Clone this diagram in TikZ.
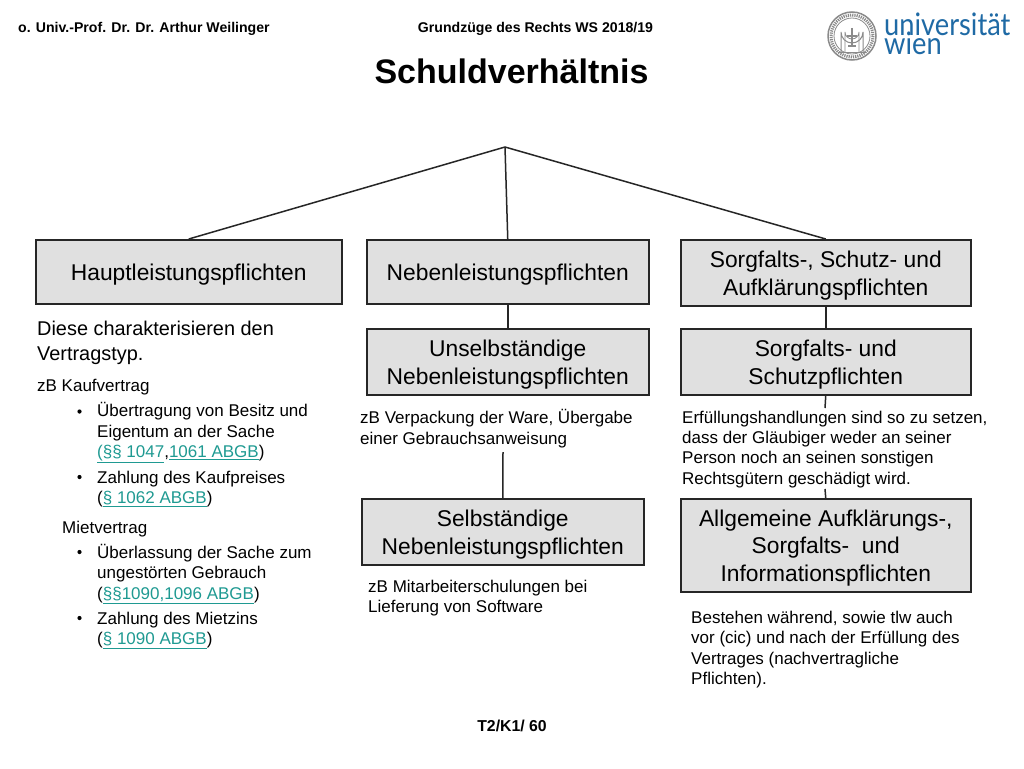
\documentclass[tikz,border=0pt]{standalone}
\usepackage{fontspec}
\setmainfont{Liberation Sans}
\newfontfamily\logofont{Lato}
\definecolor{boxgray}{HTML}{E0E0E0}
\definecolor{linkteal}{HTML}{1F9A92}
\definecolor{logoblue}{HTML}{1F6AA5}
\definecolor{sealgray}{HTML}{8A8A8A}
\newcommand{\lnk}[1]{\textcolor{linkteal}{\underline{#1}}}
\newcommand{\topst}{\rule{0pt}{22pt}}
\tikzset{
  pflicht/.style={draw=black!85,line width=1.5pt,fill=boxgray,inner sep=0pt,align=center,font=\fontsize{22.8}{27.5}\selectfont,anchor=north west},
  conn/.style={draw=black!85,line width=1.5pt},
  small/.style={inner sep=0pt,anchor=north west,align=left,font=\fontsize{17}{20.4}\selectfont},
  large/.style={inner sep=0pt,anchor=north west,align=left,font=\fontsize{19.9}{25}\selectfont},
  headtxt/.style={inner sep=0pt,anchor=base,font=\fontsize{14.1}{16}\selectfont\bfseries},
  bullet/.style={circle,fill=black,inner sep=0pt,minimum size=4.2pt},
  seal/.style={draw=sealgray,line width=0.8pt},
  logotxt/.style={inner sep=0pt,anchor=base west,text=logoblue,xscale=0.88,font=\logofont\fontsize{31}{31}\selectfont},
}
\begin{document}
\begin{tikzpicture}[x=1pt,y=-1pt]
\useasboundingbox (0,0) rectangle (1024,768);
\fill[white] (0,0) rectangle (1024,768);

% header
\node[headtxt,anchor=base west] (auth) at (18,33) {o. Univ.-Prof. Dr. Dr. Arthur Weilinger};
\node[headtxt] (course) at (535.5,33) {Grundzüge des Rechts WS 2018/19};
\node[inner sep=0pt,anchor=base,font=\fontsize{34}{40}\selectfont\bfseries] (title) at (511.5,83.5) {Schuldverhältnis};

% seal
\draw[seal,line width=1.5pt] (852,36) circle (24);
\draw[seal,dash pattern=on 1.2pt off 1pt,line width=3pt] (852,36) circle (21);
\draw[seal] (852,36) circle (18);
\draw[seal,line width=1pt] (841,52) -- (841,32) arc[start angle=180,end angle=0,radius=11] -- (863,52);
\draw[seal] (845,52) -- (845,32) arc[start angle=180,end angle=0,radius=7] -- (859,52);
\draw[seal,line width=1.4pt] (852,28) -- (852,46) (847,36) -- (857,36) (848,46) -- (856,46);
\draw[seal] (838,52) -- (866,52);
% logo
\node[logotxt] (logoa) at (884,36) {universität};
\node[logotxt] (logob) at (884,55) {wien};

% boxes
\node[pflicht,minimum width=306pt,minimum height=64pt] (haupt) at (35,239) {\topst Hauptleistungspflichten};
\node[pflicht,minimum width=282pt,minimum height=64pt] (neben) at (366,239) {\topst Nebenleistungspflichten};
\node[pflicht,minimum width=290pt,minimum height=66pt] (sorg) at (680,239) {\topst Sorgfalts-, Schutz- und\\Aufklärungspflichten};
\node[pflicht,minimum width=282pt,minimum height=66pt] (unselb) at (366,328) {\topst Unselbständige\\Nebenleistungspflichten};
\node[pflicht,minimum width=290pt,minimum height=66pt] (schutz) at (680,328) {\topst Sorgfalts- und\\Schutzpflichten};
\node[pflicht,minimum width=282pt,minimum height=66pt] (selb) at (361,498) {\topst Selbständige\\Nebenleistungspflichten};
\node[pflicht,minimum width=290pt,minimum height=93pt] (allg) at (680,498) {\topst Allgemeine Aufklärungs-,\\Sorgfalts-\ \ und\\Informationspflichten};

% connectors
\coordinate (apex) at (505,147);
\coordinate (selbtop) at (503,452);
\coordinate (schutzend) at (825,408);
\coordinate (allgstart) at (825,489);
\draw[conn] (apex) -- (haupt.north);
\draw[conn] (apex) -- (neben.north);
\draw[conn] (apex) -- (sorg.north);
\draw[conn] (neben.south) -- (unselb.north);
\draw[conn] (sorg.south) -- (schutz.north);
\draw[conn] (selbtop) -- (selb.north);
\draw[conn] (schutz.south) -- (schutzend);
\draw[conn] (allgstart) -- (allg.north);

% left column
\node[large] (diese) at (37,321) {Diese charakterisieren den\\Vertragstyp.};
\node[small] (kauf) at (37,378.5) {zB Kaufvertrag};
\node[small] (kauf1) at (97,402.5) {Übertragung von Besitz und\\Eigentum an der Sache\\\lnk{(§§ 1047},\lnk{1061 ABGB})};
\node[small] (kauf2) at (97,470.5) {Zahlung des Kaufpreises\\(\lnk{§ 1062 ABGB})};
\node[small] (miet) at (62,521) {Mietvertrag};
\node[small] (miet1) at (97,544) {Überlassung der Sache zum\\ungestörten Gebrauch\\(\lnk{§§1090,1096 ABGB})};
\node[small] (miet2) at (97,612) {Zahlung des Mietzins\\(\lnk{§ 1090 ABGB})};
\node[bullet] (b1) at (79.5,411.5) {};
\node[bullet] (b2) at (79.5,477) {};
\node[bullet] (b3) at (79.5,552) {};
\node[bullet] (b4) at (79.5,618) {};

% middle column
\node[small] (vpack) at (360,409.5) {zB Verpackung der Ware, Übergabe\\einer Gebrauchsanweisung};
\node[small] (mitarb) at (368,580) {zB Mitarbeiterschulungen bei\\Lieferung von Software};

% right column
\node[small] (erf) at (682,410.5) {Erfüllungshandlungen sind so zu setzen,\\dass der Gläubiger weder an seiner\\Person noch an seinen sonstigen\\Rechtsgütern geschädigt wird.};
\node[small] (best) at (691,611) {Bestehen während, sowie tlw auch\\vor (cic) und nach der Erfüllung des\\Vertrages (nachvertragliche\\Pflichten).};

% footer
\node[headtxt,font=\fontsize{15.8}{18}\selectfont\bfseries] (foot) at (512,731) {T2/K1/ 60};
\end{tikzpicture}
\end{document}
